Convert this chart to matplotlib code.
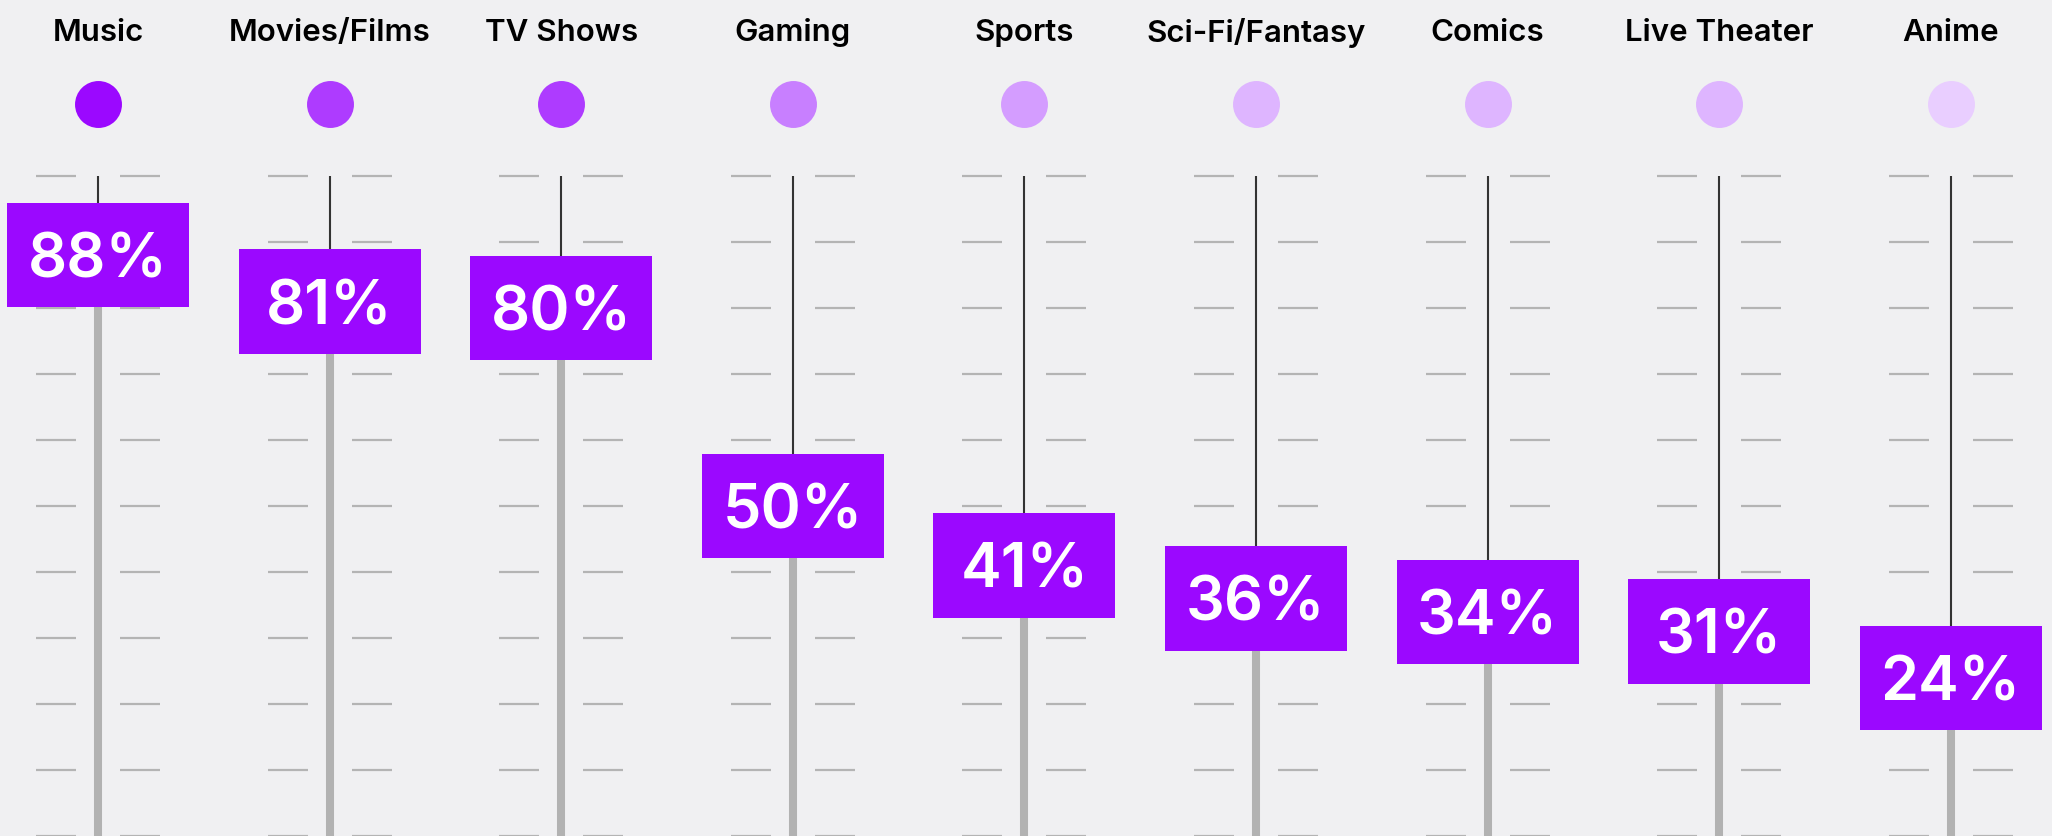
import matplotlib
matplotlib.use("Agg")
import matplotlib.pyplot as plt
from matplotlib.patches import Rectangle

categories = ["Music", "Movies/Films", "TV Shows", "Gaming", "Sports",
              "Sci-Fi/Fantasy", "Comics", "Live Theater", "Anime"]
values = [88, 81, 80, 50, 41, 36, 34, 31, 24]
dot_colors = ["#9B08FF", "#AE3BFF", "#AE3BFF", "#C87FFF", "#D49DFF",
              "#DEB5FF", "#DEB5FF", "#DEB5FF", "#E9CEFF"]
tick_levels = list(range(0, 101, 10))

BG = "#F0F0F2"
BOX = "#9B08FF"

plt.rcParams['font.family'] = ['Inter', 'DejaVu Sans']

fig = plt.figure(figsize=(20.52, 8.36), dpi=100, facecolor=BG)
ax = fig.add_axes([0, 0, 1, 1])
ax.set_facecolor(BG)
ax.set_xlim(-0.423, 8.437)
ax.set_ylim(0, 126.7)
ax.axis('off')

box_w = 0.786
box_h = 15.8

for i, (cat, v, c) in enumerate(zip(categories, values, dot_colors)):
    # scale ticks on both sides of the slider
    for t in tick_levels:
        ax.plot([i - 0.268, i - 0.095], [t, t], color="#B4B4B4", lw=1.6,
                solid_capstyle='butt', zorder=1)
        ax.plot([i + 0.095, i + 0.268], [t, t], color="#B4B4B4", lw=1.6,
                solid_capstyle='butt', zorder=1)
    # track: thin dark above the value, thick grey below
    ax.plot([i, i], [100, v], color="#333333", lw=1.5, solid_capstyle='butt', zorder=2)
    ax.plot([i, i], [v, -2], color="#B2B2B2", lw=5.8, solid_capstyle='butt', zorder=2)
    # value box
    ax.add_patch(Rectangle((i - box_w / 2, v - box_h / 2), box_w, box_h,
                           facecolor=BOX, edgecolor='none', zorder=3))
    ax.text(i, v, f"{v}%", ha='center', va='center_baseline', color='white',
            fontsize=44, fontweight='semibold', zorder=4)
    # category dot and name
    ax.plot(i, 110.9, 'o', markersize=33.8, color=c, markeredgewidth=0, zorder=3)
    ax.text(i, 122.2, cat, ha='center', va='center_baseline', color='black',
            fontsize=22.5, fontweight='semibold')

fig.savefig("out.png", dpi=100, facecolor=BG)
